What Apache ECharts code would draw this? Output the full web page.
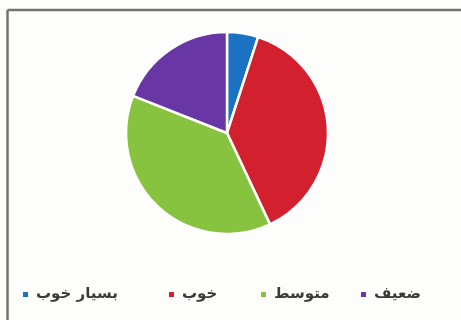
<!DOCTYPE html>
<html>
<head>
<meta charset="utf-8">
<script src="https://cdn.jsdelivr.net/npm/echarts@6/dist/echarts.min.js"></script>
<style>
  html, body { margin: 0; padding: 0; background: #fdfdfc; }
  #chart { width: 461px; height: 320px; }
</style>
</head>
<body>
<div id="chart"></div>
<script>
// Rating categories, clockwise from the top of the pie
const categories = ['بسیار خوب', 'خوب', 'متوسط', 'ضعیف'];
// Share of responses (percent)
const shares = [5, 38, 38, 19];
const colors = ['#1b72c3', '#d3202f', '#87c33e', '#6936a5'];
// left edge of each legend entry
const legendLefts = [21, 167, 259, 359];

const chart = echarts.init(document.getElementById('chart'), null, { renderer: 'canvas' });

chart.setOption({
  backgroundColor: '#fdfdfc',
  animation: false,
  color: colors,
  graphic: [
    // frame lines along the top and left edges
    { type: 'line', shape: { x1: 7.5, y1: 10, x2: 461, y2: 10 }, style: { stroke: '#737373', lineWidth: 2.5 } },
    { type: 'line', shape: { x1: 7.5, y1: 10, x2: 7.5, y2: 320 }, style: { stroke: '#737373', lineWidth: 2.5 } }
  ],
  legend: categories.map((name, i) => ({
    top: 287,
    left: legendLefts[i],
    padding: 0,
    itemWidth: 7,
    itemHeight: 7,
    icon: 'rect',
    textStyle: { fontFamily: 'DejaVu Sans', fontSize: 15, fontWeight: 'bold', color: '#3a3a3a', padding: [0, 0, 0, 2] },
    data: [name]
  })),
  series: [{
    type: 'pie',
    center: [227, 133],
    radius: 101,
    startAngle: 90,
    clockwise: true,
    label: { show: false },
    labelLine: { show: false },
    itemStyle: { borderColor: '#ffffff', borderWidth: 2.5 },
    data: categories.map((name, i) => ({ name, value: shares[i] }))
  }]
});
</script>
</body>
</html>
